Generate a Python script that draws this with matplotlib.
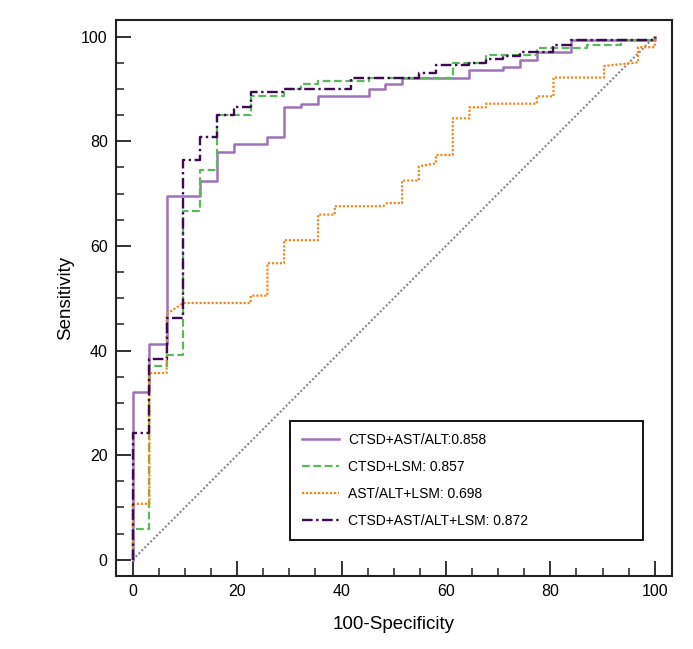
import matplotlib
matplotlib.use('Agg')
import matplotlib.pyplot as plt

plt.rcParams['font.family'] = ['Liberation Sans', 'DejaVu Sans']

# ROC vertices (100-Specificity, Sensitivity)
fpr_a = [0, 0, 3.2, 3.2, 6.5, 6.5, 12.9, 12.9, 16.1, 16.1, 19.4, 19.4, 25.8, 25.8, 29.0, 29.0,
         32.3, 32.3, 35.5, 35.5, 45.2, 45.2, 48.4, 48.4, 51.6, 51.6, 64.5, 64.5, 71.0, 71.0,
         74.2, 74.2, 77.4, 77.4, 83.9, 83.9, 100, 100]
tpr_a = [0, 32.1, 32.1, 41.3, 41.3, 69.6, 69.6, 72.5, 72.5, 78.0, 78.0, 79.5, 79.5, 80.9, 80.9, 86.6,
         86.6, 87.1, 87.1, 88.6, 88.6, 90.0, 90.0, 90.9, 90.9, 92.1, 92.1, 93.6, 93.6, 94.3,
         94.3, 95.6, 95.6, 97.0, 97.0, 99.3, 99.3, 100]

fpr_b = [0, 0, 3.2, 3.2, 6.5, 6.5, 9.7, 9.7, 12.9, 12.9, 16.1, 16.1, 22.6, 22.6, 29.0, 29.0,
         32.3, 32.3, 35.5, 35.5, 45.2, 45.2, 61.3, 61.3, 67.7, 67.7, 77.4, 77.4, 87.1, 87.1,
         93.5, 93.5, 100, 100]
tpr_b = [0, 5.9, 5.9, 37.1, 37.1, 39.2, 39.2, 66.7, 66.7, 74.6, 74.6, 85.1, 85.1, 88.6, 88.6, 90.1,
         90.1, 90.9, 90.9, 91.6, 91.6, 92.1, 92.1, 95.0, 95.0, 96.5, 96.5, 97.9, 97.9, 98.5,
         98.5, 99.3, 99.3, 100]

fpr_c = [0, 0, 3.2, 3.2, 6.5, 6.5, 9.7, 22.6, 22.6, 25.8, 25.8, 29.0, 29.0, 35.5, 35.5, 38.7, 38.7,
         48.0, 48.7, 51.6, 51.6, 54.8, 54.8, 58.1, 58.1, 61.3, 61.3, 64.5, 64.5, 67.7, 67.7,
         77.4, 77.4, 80.6, 80.6, 90.3, 90.3, 96.8, 96.8, 100, 100]
tpr_c = [0, 10.7, 10.7, 35.7, 35.7, 47.0, 49.1, 49.1, 50.5, 50.5, 56.7, 56.7, 61.1, 61.1, 66.0, 66.0, 67.6,
         67.6, 68.2, 68.2, 72.5, 72.5, 75.2, 75.8, 77.4, 77.4, 84.4, 84.4, 86.5, 86.5, 87.2,
         87.2, 88.6, 88.6, 92.2, 92.2, 94.4, 95.1, 98.0, 98.0, 100]

fpr_d = [0, 0, 3.2, 3.2, 6.5, 6.5, 9.7, 9.7, 12.9, 12.9, 16.1, 16.1, 19.4, 19.4, 22.6, 22.6,
         29.0, 29.0, 41.9, 41.9, 54.8, 54.8, 58.1, 58.1, 64.5, 64.5, 67.7, 67.7, 71.0, 71.0,
         74.2, 74.2, 80.6, 80.6, 83.9, 83.9, 100, 100]
tpr_d = [0, 24.3, 24.3, 38.4, 38.4, 46.2, 46.2, 76.5, 76.5, 80.9, 80.9, 85.1, 85.1, 86.6, 86.6, 89.5,
         89.5, 90.0, 90.0, 92.1, 92.1, 93.1, 93.1, 94.5, 94.5, 95.0, 95.0, 95.7, 95.7, 96.4,
         96.4, 97.1, 97.1, 98.5, 98.5, 99.4, 99.4, 100]

labels = ['CTSD+AST/ALT:0.858', 'CTSD+LSM: 0.857', 'AST/ALT+LSM: 0.698', 'CTSD+AST/ALT+LSM: 0.872']

fig = plt.figure(figsize=(6.93, 6.49), dpi=100)
ax = fig.add_axes([0.1674, 0.1125, 0.8023, 0.8567])

# reference diagonal
ax.plot([0, 100], [0, 100], color='#8a8a8a', lw=1.5, linestyle=(0, (1, 1)))

ax.plot(fpr_a, tpr_a, color='#9e72b8', lw=1.8, linestyle='-', label=labels[0])
ax.plot(fpr_b, tpr_b, color='#5cb85c', lw=1.6, linestyle=(0, (3.5, 1.6)), label=labels[1])
ax.plot(fpr_c, tpr_c, color='#f08a1c', lw=1.6, linestyle=(0, (1, 0.8)), label=labels[2])
ax.plot(fpr_d, tpr_d, color='#3d0a4f', lw=1.7, linestyle=(0, (4.5, 1.5, 1, 1.5)), label=labels[3])

ax.set_xlim(-3.2, 103.3)
ax.set_ylim(-3.1, 103.2)
ax.set_xticks(range(0, 101, 20))
ax.set_yticks(range(0, 101, 20))
ax.set_xticks(range(0, 101, 5), minor=True)
ax.set_yticks(range(0, 101, 5), minor=True)
ax.tick_params(which='major', direction='in', length=11, width=1.3, labelsize=11.5, pad=6,
               colors='#222222', labelcolor='black')
ax.tick_params(which='minor', direction='in', length=6, width=1.1, colors='#222222')
for s in ax.spines.values():
    s.set_linewidth(1.5)
    s.set_color('#222222')

ax.set_xlabel('100-Specificity', fontsize=13.5, labelpad=12)
ax.set_ylabel('Sensitivity', fontsize=13.5, labelpad=5)

leg = ax.legend(loc='lower left', bbox_to_anchor=(0.313, 0.0647, 0.635, 0.216), mode='expand',
                borderaxespad=0, fontsize=10, handlelength=2.7, handletextpad=0.65,
                labelspacing=0.95, borderpad=0.85, fancybox=False, framealpha=1,
                edgecolor='black')
leg.get_frame().set_linewidth(1.3)

fig.savefig('out.png', dpi=100)
